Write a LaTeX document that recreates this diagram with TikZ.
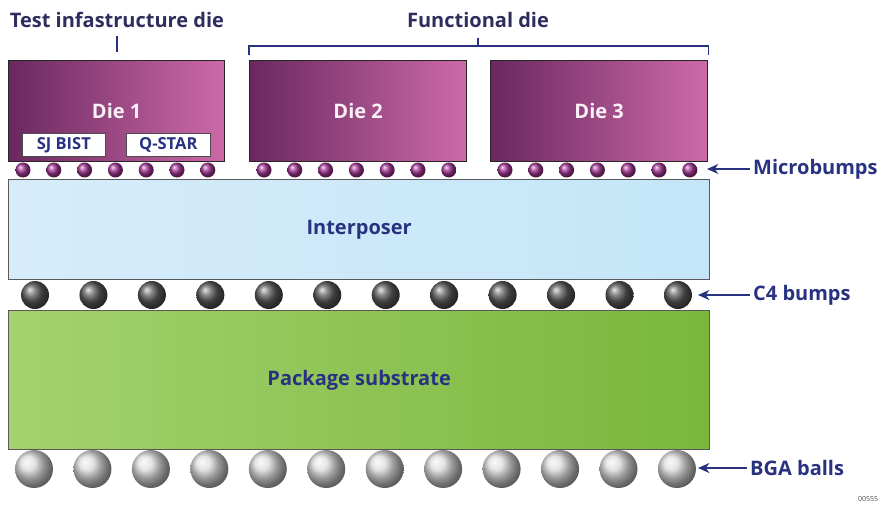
\documentclass[tikz,border=0pt]{standalone}
\usepackage{fontspec}
\setmainfont{Open Sans}
\usepackage{tikz}
\usetikzlibrary{arrows.meta, positioning, calc, shadings}
\definecolor{dieleft}{RGB}{106, 40, 96}
\definecolor{dieright}{RGB}{205, 106, 168}
\definecolor{labelnavy}{RGB}{40, 50, 128}
\definecolor{headnavy}{RGB}{46, 45, 94}
\definecolor{interleft}{RGB}{214, 236, 250}
\definecolor{interright}{RGB}{196, 230, 248}
\definecolor{subleft}{RGB}{164, 210, 110}
\definecolor{subright}{RGB}{122, 182, 60}
\definecolor{bumppurple}{RGB}{160, 52, 145}
\tikzstyle{die} = [rectangle, draw=black!85, line width=1.3pt, left color=dieleft, right color=dieright, anchor=north west, minimum width=216pt, minimum height=101pt, font=\bfseries\fontsize{20}{22}\selectfont, text=white!90!dieright]
\tikzstyle{tag} = [rectangle, draw=black!70, fill=white, line width=0.6pt, anchor=north west, minimum width=83pt, minimum height=23pt, inner sep=0pt, font=\bfseries\fontsize{16.5}{18}\selectfont, text=labelnavy]
\tikzstyle{layer} = [rectangle, draw=black!65, line width=1.3pt, anchor=north west, minimum width=701pt, font=\bfseries\fontsize{20}{22}\selectfont, text=labelnavy]
\tikzstyle{mbump} = [circle, ball color=bumppurple, minimum size=15pt, inner sep=0pt]
\tikzstyle{cbump} = [circle, ball color=black!65, minimum size=28pt, inner sep=0pt]
\tikzstyle{bga} = [circle, ball color=black!14, minimum size=38pt, inner sep=0pt]
\tikzstyle{head} = [font=\bfseries\fontsize{20}{22}\selectfont, text=headnavy]
\tikzstyle{sidelabel} = [anchor=west, font=\bfseries\fontsize{20}{22}\selectfont, text=labelnavy, inner sep=3pt]
\tikzstyle{line} = [draw, -{Stealth[length=4mm, width=3.5mm]}, line width=2pt, labelnavy]
\tikzstyle{bracket} = [draw, line width=1.2pt, labelnavy]

\begin{document}
\begin{tikzpicture}[x=1pt, y=-1pt]
    \useasboundingbox (0,0) rectangle (886,504);

    % Layers
    \node (sub) [layer, minimum height=139pt, left color=subleft, right color=subright] at (8,310) {Package substrate};
    \node (inter) [layer, minimum height=100pt, left color=interleft, right color=interright] at (8,179) {Interposer};

    % Bumps and balls
    \foreach \i in {0,...,11} {
        \node (c4\i) [cbump] at (35+58.45*\i,295) {};
        \node (bga\i) [bga] at (34+58.45*\i,469) {};
    }
    \foreach \d/\s in {1/23, 2/264, 3/505} {
        \foreach \i in {0,...,6}
            \node (mb\d\i) [mbump] at (\s+30.8*\i,170) {};
    }

    % Dies
    \node (die1) [die] at (8,60) {\raisebox{-3pt}{Die 1}};
    \node (die2) [die, minimum width=217pt] at (249,60) {\raisebox{-3pt}{Die 2}};
    \node (die3) [die, minimum width=217pt] at (490,60) {\raisebox{-3pt}{Die 3}};
    \node (sjbist) [tag] at (22,133) {SJ BIST};
    \node (qstar) [tag, minimum width=84pt] at (126,133) {Q-STAR};

    % Headings
    \node (testdie) [head] at (117,20) {Test infastructure die};
    \node (funcdie) [head] at (478,20) {Functional die};
    \coordinate (testtick) at (117,52);
    \coordinate (funcmid) at (478,46);
    \draw [bracket] (testtick) -- (117,36);
    \draw [bracket] ([yshift=5pt]die2.north west) |- ([yshift=14pt]die3.north east) -- ([yshift=5pt]die3.north east);
    \draw [bracket] (funcmid) -- (478,38);

    % Side labels
    \node (mblabel) [sidelabel] at (750,169) {Microbumps};
    \node (c4label) [sidelabel] at (750,295) {C4 bumps};
    \node (bgalabel) [sidelabel] at (747,468) {BGA balls};
    \coordinate (mbtip) at (707,169);
    \coordinate (c4tip) at (698,295);
    \coordinate (bgatip) at (698,468);
    \draw [line] (mblabel.west) -- (mbtip);
    \draw [line] (c4label.west) -- (c4tip);
    \draw [line] (bgalabel.west) -- (bgatip);

    \node (figno) [font=\fontsize{7}{8}\selectfont, text=black!70] at (868,499) {00555};
\end{tikzpicture}
\end{document}
